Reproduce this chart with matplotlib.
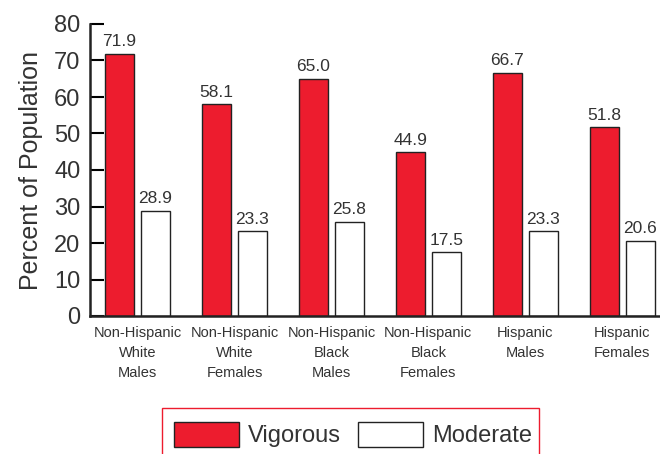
import matplotlib
matplotlib.use("Agg")
import numpy as np
import matplotlib.pyplot as plt
from matplotlib.patches import Patch, Rectangle

categories = ["Non-Hispanic\nWhite\nMales", "Non-Hispanic\nWhite\nFemales",
              "Non-Hispanic\nBlack\nMales", "Non-Hispanic\nBlack\nFemales",
              "Hispanic\nMales", "Hispanic\nFemales"]
vigorous = [71.9, 58.1, 65.0, 44.9, 66.7, 51.8]
moderate = [28.9, 23.3, 25.8, 17.5, 23.3, 20.6]
yticks = [0, 10, 20, 30, 40, 50, 60, 70, 80]

red = "#ED1C2E"
txt = "#333333"
plt.rcParams['font.family'] = ["Liberation Sans", "DejaVu Sans"]

fig = plt.figure(figsize=(6.6, 4.54), dpi=100)
ax = fig.add_axes([90 / 660, 138 / 454, 570 / 660, 292 / 454])

x = np.arange(len(categories))
w = 0.3
off = 0.186
ax.bar(x - off, vigorous, w, color=red, edgecolor="#222222", linewidth=1.0)
ax.bar(x + off, moderate, w, color="white", edgecolor="#222222", linewidth=1.0)

for xi, v in zip(x - off, vigorous):
    ax.text(xi, v + 1.2, f"{v:.1f}", ha="center", va="bottom", fontsize=12.5,
            color=txt)
for xi, v in zip(x + off, moderate):
    ax.text(xi, v + 1.2, f"{v:.1f}", ha="center", va="bottom", fontsize=12.5,
            color=txt)

ax.set_xlim(-0.49, 5.39)
ax.set_ylim(0, 80)
ax.set_yticks(yticks)
ax.set_yticklabels([str(t) for t in yticks], fontsize=17, color=txt)
ax.set_xticks(x)
ax.set_xticklabels(categories, fontsize=10.5, color=txt, linespacing=1.55)
ax.tick_params(axis="x", length=0, pad=7)
ax.tick_params(axis="y", direction="in", length=10, width=1.5, pad=7)
for s in ["top", "right"]:
    ax.spines[s].set_visible(False)
for s in ["left", "bottom"]:
    ax.spines[s].set_linewidth(1.8)
    ax.spines[s].set_color("#222222")
ax.set_ylabel("Percent of Population", fontsize=18, color=txt, labelpad=8)

# legend box, cut off at the bottom like the original
fig.patches.append(Rectangle((162 / 660, -0.05), 377 / 660, 46 / 454 + 0.05,
                             transform=fig.transFigure, fill=False,
                             edgecolor=red, linewidth=1.0))
handles = [Patch(facecolor=red, edgecolor="#222222", label="Vigorous"),
           Patch(facecolor="white", edgecolor="#222222", label="Moderate")]
fig.legend(handles=handles, loc="upper left",
           bbox_to_anchor=(162 / 660, (454 - 410) / 454), ncol=2,
           frameon=False, fontsize=17, handlelength=2.75, handleheight=1.25,
           handletextpad=0.4, columnspacing=0.7, borderpad=0,
           labelcolor=txt)

fig.savefig("out.png", dpi=100)
